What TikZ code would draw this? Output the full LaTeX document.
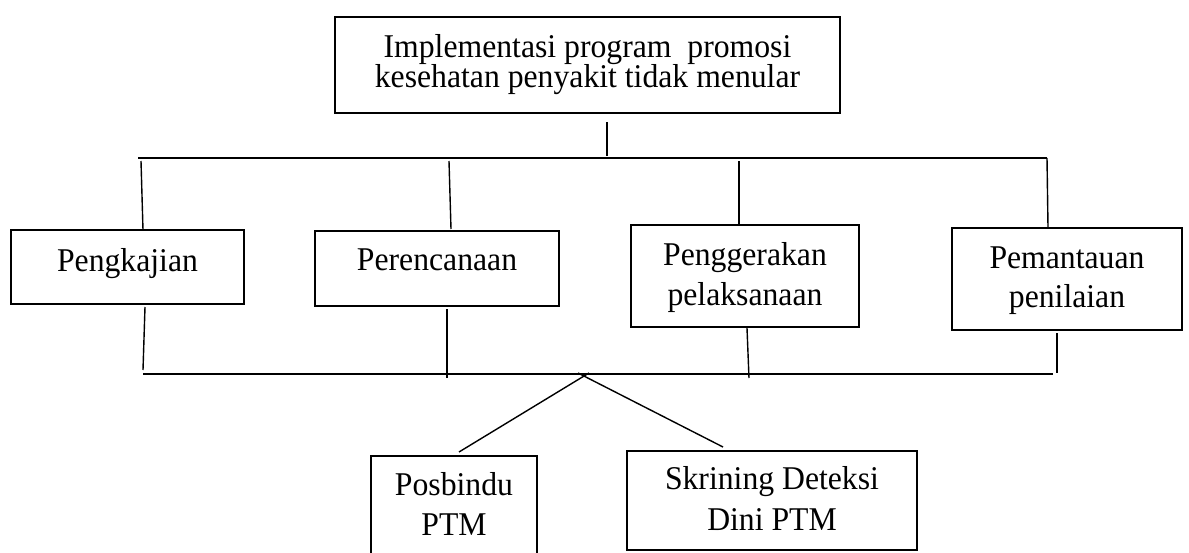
\documentclass[tikz,border=0pt]{standalone}
\usepackage{fontspec}
\setmainfont{Liberation Serif}[FakeStretch=0.955]
\begin{document}
\begin{tikzpicture}[x=0.5pt,y=-0.5pt,
  box/.style={draw, line width=1pt, rectangle, inner sep=0pt},
  conn/.style={line width=0.7pt},
  lbl/.style={anchor=base, inner sep=0pt, font=\fontsize{16.6}{18}\selectfont}]
\useasboundingbox (0,0) rectangle (1189,552);
\begin{scope}
\clip (0,0) rectangle (1189,552);
% boxes
\node[box, minimum width=252.5pt, minimum height=48pt] (top) at (587.5,65) {};
\node[box, minimum width=116.5pt, minimum height=37pt] (b1) at (127.5,267) {};
\node[box, minimum width=122pt, minimum height=37.5pt] (b2) at (437,268.5) {};
\node[box, minimum width=114pt, minimum height=51pt] (b3) at (745,276) {};
\node[box, minimum width=115pt, minimum height=51pt] (b4) at (1067,279) {};
\node[box, minimum width=83pt, minimum height=60pt] (c1) at (454,516) {};
\node[box, minimum width=145pt, minimum height=49.5pt] (c2) at (772,500.5) {};
% texts
\node[lbl] (t0a) at (587.5,57) {Implementasi program\ \ promosi};
\node[lbl] (t0b) at (587.5,87) {kesehatan penyakit tidak menular};
\node[lbl] (t1) at (127.5,271) {Pengkajian};
\node[lbl] (t2) at (437,270) {Perencanaan};
\node[lbl] (t3a) at (745,265) {Penggerakan};
\node[lbl] (t3b) at (745,305) {pelaksanaan};
\node[lbl] (t4a) at (1067,268) {Pemantauan};
\node[lbl] (t4b) at (1067,307) {penilaian};
\node[lbl] (t5a) at (454,495) {Posbindu};
\node[lbl] (t5b) at (454,535) {PTM};
\node[lbl] (t6a) at (772,489) {Skrining Deteksi};
\node[lbl] (t6b) at (772,530) {Dini PTM};
% connector points
\coordinate (s0a) at (607,122);
\coordinate (s0b) at (607,156);
\coordinate (hL) at (138,158);
\coordinate (hR) at (1047,158);
\coordinate (u1a) at (141,161); \coordinate (u1b) at (143,230);
\coordinate (u2a) at (449,161); \coordinate (u2b) at (451,229);
\coordinate (u3a) at (739,161); \coordinate (u3b) at (739,225);
\coordinate (u4a) at (1047,158); \coordinate (u4b) at (1048,227);
\coordinate (d1a) at (145,307); \coordinate (d1b) at (143,370);
\coordinate (d2a) at (447,309); \coordinate (d2b) at (447,378);
\coordinate (d3a) at (747,328); \coordinate (d3b) at (749,378);
\coordinate (d4a) at (1057,333); \coordinate (d4b) at (1057,373);
\coordinate (gL) at (143,374);
\coordinate (gR) at (1053,374);
\coordinate (xL) at (589,373); \coordinate (eL) at (459,452);
\coordinate (xR) at (578,373); \coordinate (eR) at (723,447);
% connectors
\draw[conn] (s0a) -- (s0b);
\draw[conn] (hL) -- (hR);
\draw[conn] (u1a) -- (u1b);
\draw[conn] (u2a) -- (u2b);
\draw[conn] (u3a) -- (u3b);
\draw[conn] (u4a) -- (u4b);
\draw[conn] (d1a) -- (d1b);
\draw[conn] (d2a) -- (d2b);
\draw[conn] (d3a) -- (d3b);
\draw[conn] (d4a) -- (d4b);
\draw[conn] (gL) -- (gR);
\draw[conn] (xL) -- (eL);
\draw[conn] (xR) -- (eR);
\end{scope}
\end{tikzpicture}
\end{document}
